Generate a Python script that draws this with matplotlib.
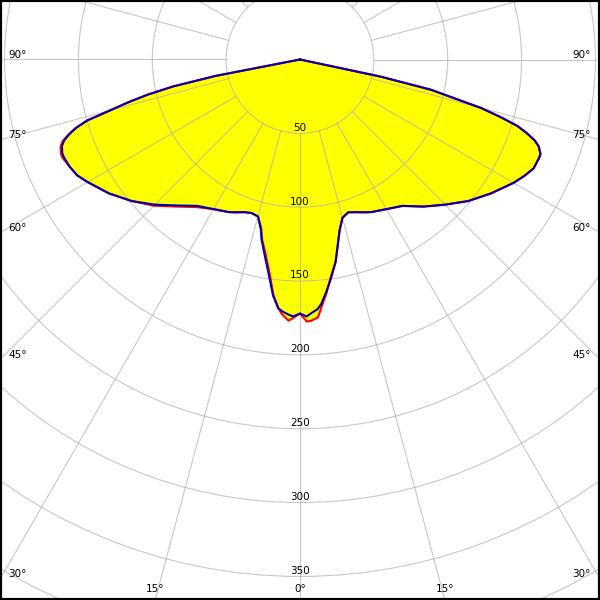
import numpy as np
import matplotlib
matplotlib.use("Agg")
import matplotlib.pyplot as plt
from matplotlib.patches import Circle

# ---- data (angle from nadir, degrees; intensity values) ----
angles = [0, 1.5, 2.5, 4, 5, 6.5, 8, 10, 12, 13, 15, 17.5, 20, 22.5, 25, 30,
          35, 40, 45, 50, 55, 60, 62.5, 65, 67.5, 68.5, 70, 71, 72, 73, 74,
          75, 76, 77, 78, 79, 80, 90, 180]
blue_left = [172, 174, 173, 171, 169, 161, 149, 136, 125, 118, 110, 109, 110,
             112, 114, 117, 121, 129, 139, 149, 158, 166, 170, 172, 173, 173,
             171.5, 169, 164.5, 158.5, 150, 133, 120, 106, 88, 58, 0, 0, 0]
blue_right = [172, 174, 172, 169.5, 166, 158, 150, 139, 125, 119, 111, 108.5,
              110, 112, 114, 117, 121, 130, 139, 149, 158, 167, 171, 174.5,
              175, 175, 172, 168, 161.5, 154, 141, 127, 106, 91, 56, 0, 0, 0, 0]
red_left = [172, 175, 177, 173, 169, 160, 147, 134, 124, 117, 110, 109, 110,
            112, 114, 117, 122, 130, 140, 149, 158, 166, 170, 172, 174, 174,
            172.5, 170, 165, 159, 150, 133, 120, 106, 88, 58, 0, 0, 0]
red_right = [172, 177.5, 177, 175, 168, 159, 149, 139, 125, 119, 111, 108.5,
             110, 112, 114, 117, 121, 130, 139, 149, 158, 167, 171, 174.5,
             175, 175, 172, 168, 161.5, 154, 141, 127, 106, 91, 56, 0, 0, 0, 0]
ring_values = [50, 100, 150, 200, 250, 300, 350]
side_angle_labels = [90, 75, 60, 45, 30]
bottom_angle_labels = [15, 0]

# ---- layout ----
S = 1.477            # pixels per intensity unit
W = H = 600
CY = 59.5            # pixel row of the centre
XMAX = (W / 2) / S
YTOP = -CY / S
YBOT = (H - CY) / S

fig = plt.figure(figsize=(6, 6), dpi=100)
ax = fig.add_axes([0, 0, 1, 1])
ax.set_xlim(-XMAX, XMAX)
ax.set_ylim(YBOT, YTOP)
ax.set_xticks([])
ax.set_yticks([])
for sp in ax.spines.values():
    sp.set_linewidth(3)
    sp.set_color("black")


def curve(left, right):
    a = np.array(angles, dtype=float)
    th = np.concatenate([-a[::-1], a[1:]])
    r = np.concatenate([np.array(left, float)[::-1], np.array(right, float)[1:]])
    t = np.radians(th)
    return r * np.sin(t), r * np.cos(t)


bx, by = curve(blue_left, blue_right)
rx, ry = curve(red_left, red_right)
fx, fy = curve(np.maximum(blue_left, red_left), np.maximum(blue_right, red_right))

ax.fill(fx, fy, color="#ffff00", zorder=1, lw=0)

gcol = "#b0b0b0"
for rv in range(50, 450, 50):
    ax.add_patch(Circle((0, 0), rv, fill=False, ec=gcol, lw=0.8, alpha=0.7, zorder=2))
for a in range(0, 360, 15):
    t = np.radians(a)
    ax.plot([50 * np.sin(t), 500 * np.sin(t)], [50 * np.cos(t), 500 * np.cos(t)],
            color=gcol, lw=0.8, alpha=0.7, zorder=2)

ax.plot(rx, ry, color="#ff0000", lw=1.5, zorder=3, solid_joinstyle="round")
ax.plot(bx, by, color="#0000b4", lw=1.5, zorder=4, solid_joinstyle="round")

fs = 7.5
for rv in ring_values:
    ax.text(0, rv - 1.8, str(rv), ha="center", va="baseline", fontsize=fs, zorder=5)

for a in side_angle_labels:
    t = np.radians(a)
    yb = XMAX * np.cos(t) / np.sin(t) - 2 / S
    ax.text(-XMAX + 8.5 / S, yb, f"{a}°", ha="left", va="baseline", fontsize=fs, zorder=5)
    ax.text(XMAX - 9 / S, yb, f"{a}°", ha="right", va="baseline", fontsize=fs, zorder=5)

for a in bottom_angle_labels:
    t = np.radians(a)
    xb = YBOT * np.tan(t)
    ax.text(-xb, YBOT - 8.5 / S, f"{a}°", ha="center", va="baseline", fontsize=fs, zorder=5)
    if a != 0:
        ax.text(xb, YBOT - 8.5 / S, f"{a}°", ha="center", va="baseline", fontsize=fs, zorder=5)

fig.savefig("out.png", dpi=100)
